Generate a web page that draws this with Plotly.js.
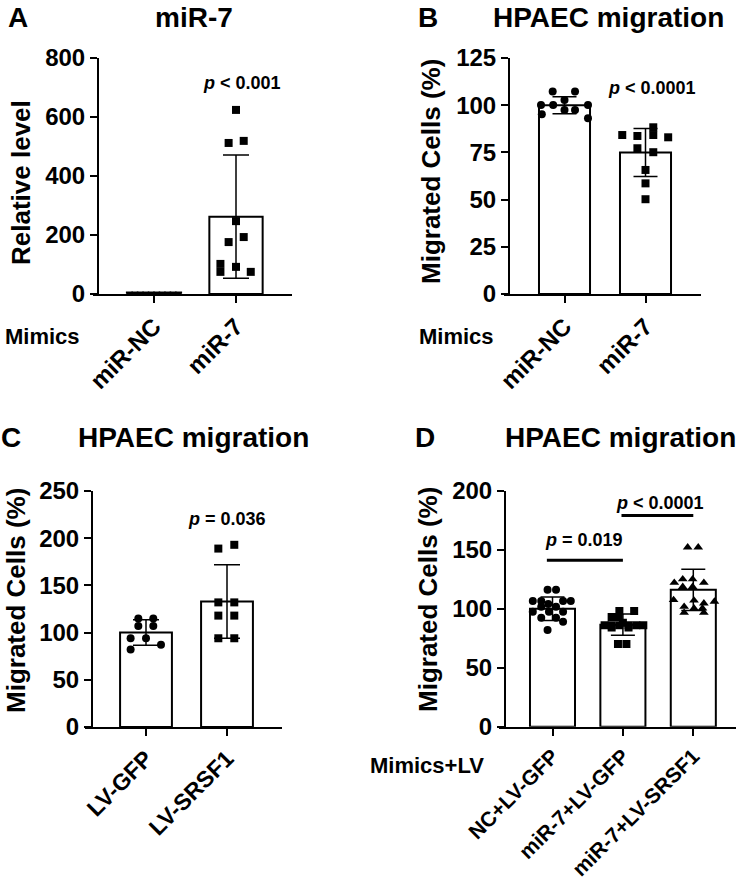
<!DOCTYPE html>
<html>
<head>
<meta charset="utf-8">
<script src="https://cdn.plot.ly/plotly-3.0.1.min.js"></script>
<style>
  html, body { margin: 0; padding: 0; background: #fff; }
  #chart { width: 742px; height: 885px; }
</style>
</head>
<body>
<div id="chart"></div>
<script>
// ---- data ----

// A: miR-7 relative level
const aGroups = ["miR-NC", "miR-7"]
const aMeans = [1, 262]
const aSD = [0, 209]
const aNCVals = [5, 5, 5, 5, 5, 5, 5, 5, 5, 5]
const aNCOffs = [-0.3, -0.233, -0.167, -0.1, -0.033, 0.033, 0.1, 0.167, 0.233, 0.3]
const aMir7Vals = [624, 512, 519, 247, 176, 193, 102, 75, 92, 75]
const aMir7Offs = [0, -0.09, 0.094, 0, -0.09, 0.094, -0.19, -0.19, 0, 0.18]

// B: HPAEC migration, mimics
const bGroups = ["miR-NC", "miR-7"]
const bMeans = [100, 75]
const bSD = [4.5, 12.7]
const bNCVals = [107.2, 107.2, 102.8, 100.1, 100.1, 100.1, 97.5, 97.5, 95.2, 93.1]
const bNCOffs = [-0.146, 0.13, 0, -0.29, -0.14, 0.29, 0, 0.13, -0.28, 0.29]
const bMir7Vals = [88.3, 84.2, 84.2, 83.7, 83.0, 77.2, 75.1, 65.7, 58.6, 50.2]
const bMir7Offs = [0.096, -0.287, 0.096, -0.1, 0.28, -0.1, 0.096, 0, 0, 0]

// C: HPAEC migration, lentivirus
const cGroups = ["LV-GFP", "LV-SRSF1"]
const cMeans = [100, 133]
const cSD = [13.5, 39]
const cGFPVals = [115, 115, 107, 107, 94, 94, 87, 82]
const cGFPOffs = [-0.095, 0.09, -0.095, 0.09, -0.19, 0, 0.185, -0.19]
const cSRVals = [189, 193, 132, 132, 118, 118, 94, 94]
const cSROffs = [-0.107, 0.09, -0.107, 0.09, -0.107, 0.09, -0.107, 0.09]

// D: HPAEC migration, mimics + LV
const dGroups = ["NC+LV-GFP", "miR-7+LV-GFP", "miR-7+LV-SRSF1"]
const dMeans = [100, 86.5, 116]
const dSD = [10, 9, 17.5]
const dNCVals = [116, 116, 106.5, 106.5, 106.5, 106.5, 104, 101.7, 101.7, 97.5, 97.5, 97.5, 92.4, 92.4, 89, 82]
const dNCOffs = [-0.07, 0.05, -0.28, -0.16, 0.15, 0.26, -0.06, -0.16, 0.05, -0.28, -0.05, 0.15, -0.16, 0.05, 0.15, -0.07]
const dM7Vals = [98, 98, 93, 93, 88, 86, 86, 86, 86, 86, 86, 84, 84, 70, 70]
const dM7Offs = [-0.05, 0.16, -0.16, -0.06, 0, -0.26, -0.16, -0.05, 0.08, 0.19, 0.29, -0.16, 0.08, -0.07, 0.05]
const dSRVals = [152, 152, 122, 125, 125, 122, 118.6, 118.6, 107.4, 107, 104.6, 106, 101.7, 100.3, 100.3, 96.6, 96.6]
const dSROffs = [-0.08, 0.07, -0.27, -0.15, -0.01, 0.15, -0.15, -0.01, -0.28, 0.01, 0.15, 0.3, -0.13, 0.01, 0.13, -0.13, 0.15]
const dCompY = [141, 179]
const dCompFrom = [-0.08, 0.98]
const dCompTo = [1.0, 2.0]
const dCompText = ["<i>p</i> = 0.019", "<i>p</i> < 0.0001"]
const dCompTextX = [0.45, 1.53]
const dCompTextY = [158, 189.5]

// ---- layout helpers ----
const W = 742, H = 885
const FONT = "Liberation Sans, Arial, Helvetica, sans-serif"
const px = x => x / W
const py = y => 1 - y / H

const barTrace = (groups, means, sd, width, cap, xa, ya) => ({
  type: "bar", x: groups.map((_, i) => i), y: means, width,
  xaxis: xa, yaxis: ya, hoverinfo: "skip",
  marker: {color: "white", line: {color: "black", width: 2}},
  error_y: {type: "data", array: sd, visible: true, color: "black", thickness: 1.5, width: cap}
})

const dots = (i, vals, offs, symbol, size, xa, ya) => ({
  type: "scatter", mode: "markers", x: offs.map(o => i + o), y: vals,
  xaxis: xa, yaxis: ya, hoverinfo: "skip",
  marker: {symbol, size, color: "black", line: {color: "black", width: symbol.startsWith("line") ? 2 : 0}}
})

const xAxis = (groups, L, R, c0, s, anchor, fontSize) => ({
  domain: [px(L), px(R)], range: [(L - c0) / s, (R - c0) / s], anchor,
  tickvals: groups.map((_, i) => i), ticktext: groups, tickangle: -45,
  showline: true, linecolor: "black", linewidth: 2, ticks: "outside", ticklen: 7, tickwidth: 2, tickcolor: "black",
  showgrid: false, zeroline: false, fixedrange: true,
  tickfont: {family: FONT, size: fontSize, color: "black", weight: 700}
})

const yAxis = (pos, yTop, yBot, max, dtick) => ({
  domain: [py(yBot), py(yTop)], range: [0, max], anchor: "free", position: px(pos),
  dtick, tick0: 0, showline: true, linecolor: "black", linewidth: 2, ticks: "outside", ticklen: 7, tickwidth: 2, tickcolor: "black",
  showgrid: false, zeroline: false, fixedrange: true,
  tickfont: {family: FONT, size: 24, color: "black", weight: 700}
})

const label = (text, x, y, size, angle, yanchor) => ({
  xref: "paper", yref: "paper", x: px(x), y: py(y), text, showarrow: false,
  xanchor: "center", yanchor: yanchor || "middle", textangle: angle || 0,
  font: {family: FONT, size, color: "black", weight: 700}
})

// ---- traces ----
const data = [
  barTrace(aGroups, aMeans, aSD, 0.65, 13, "x", "y"),
  dots(0, aNCVals, aNCOffs, "line-ew", 5, "x", "y"),
  dots(1, aMir7Vals, aMir7Offs, "square", 8, "x", "y"),

  barTrace(bGroups, bMeans, bSD, 0.63, 12, "x2", "y2"),
  dots(0, bNCVals, bNCOffs, "circle", 8, "x2", "y2"),
  dots(1, bMir7Vals, bMir7Offs, "square", 8, "x2", "y2"),

  barTrace(cGroups, cMeans, cSD, 0.64, 13, "x3", "y3"),
  dots(0, cGFPVals, cGFPOffs, "circle", 8, "x3", "y3"),
  dots(1, cSRVals, cSROffs, "square", 8, "x3", "y3"),

  barTrace(dGroups, dMeans, dSD, 0.64, 12, "x4", "y4"),
  dots(0, dNCVals, dNCOffs, "circle", 8, "x4", "y4"),
  dots(1, dM7Vals, dM7Offs, "square", 8, "x4", "y4"),
  dots(2, dSRVals, dSROffs, "triangle-up", 8.5, "x4", "y4")
]

dCompY.forEach((y, i) => {
  data.push({
    type: "scatter", mode: "lines", x: [dCompFrom[i], dCompTo[i]], y: [y, y],
    xaxis: "x4", yaxis: "y4", hoverinfo: "skip", line: {color: "black", width: 3}
  })
})

const annotations = [
  label("A", 18, 0, 28, 0, "top"), label("miR-7", 194, 0, 28, 0, "top"),
  label("B", 428, 0, 28, 0, "top"), label("HPAEC migration", 608, 0, 28, 0, "top"),
  label("C", 11, 437, 28), label("HPAEC migration", 193, 437, 28),
  label("D", 425, 437, 28), label("HPAEC migration", 620, 437, 28),

  label("Relative level", 21, 183, 26, -90),
  label("Migrated Cells (%)", 431, 172, 26, -90),
  label("Migrated Cells (%)", 16, 601, 26, -90),
  label("Migrated Cells (%)", 428, 599, 26, -90),

  label("<i>p</i> < 0.001", 242, 83, 18),
  label("<i>p</i> < 0.0001", 652, 88, 18),
  label("<i>p</i> = 0.036", 227, 519, 18),

  label("Mimics", 42, 336, 22),
  label("Mimics", 456, 336, 22),
  label("Mimics+LV", 427, 765, 22)
]

dCompText.forEach((t, i) => {
  annotations.push({
    xref: "x4", yref: "y4", x: dCompTextX[i], y: dCompTextY[i], text: t, showarrow: false,
    xanchor: "center", yanchor: "middle",
    font: {family: FONT, size: 18, color: "black", weight: 700}
  })
})

const layout = {
  width: W, height: H, margin: {l: 0, r: 0, t: 0, b: 0},
  paper_bgcolor: "white", plot_bgcolor: "white", showlegend: false,
  barmode: "overlay",
  xaxis: xAxis(aGroups, 93, 292, 154, 82, "y", 24),
  yaxis: yAxis(98, 58, 294, 800, 200),
  xaxis2: xAxis(bGroups, 504, 701, 564.5, 81, "y2", 24),
  yaxis2: yAxis(509, 58, 294, 125, 25),
  xaxis3: xAxis(cGroups, 85, 282, 146, 81, "y3", 23),
  yaxis3: yAxis(92, 491, 727, 250, 50),
  xaxis4: xAxis(dGroups, 499, 736, 552.5, 70.4, "y4", 21),
  yaxis4: yAxis(505, 490.7, 726.7, 200, 50),
  annotations
}

Plotly.newPlot("chart", data, layout, {displayModeBar: false, staticPlot: true})
</script>
</body>
</html>
